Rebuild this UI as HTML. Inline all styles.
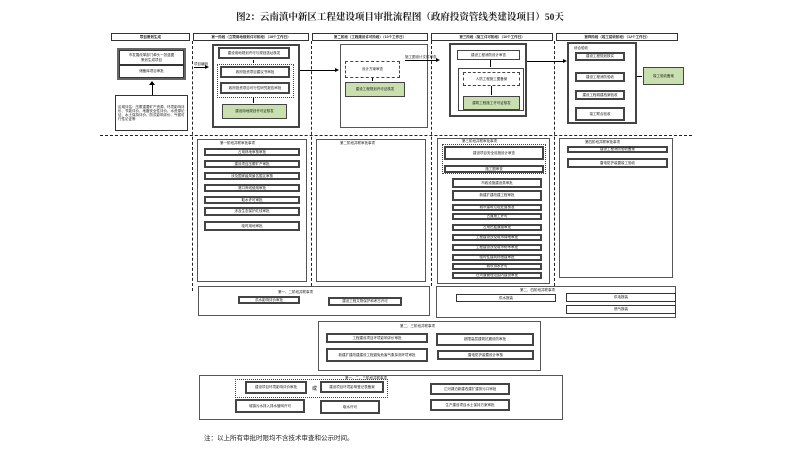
<!DOCTYPE html>
<html><head><meta charset="utf-8"><style>
body{margin:0;width:800px;height:450px;background:#fff;position:relative;overflow:hidden;font-family:"Liberation Sans","Noto Sans CJK SC",sans-serif;color:#222}
.a{position:absolute;box-sizing:border-box}
.b{border:1px solid #333;background:#fff;font-size:3.5px;display:flex;align-items:center;justify-content:center;text-align:center;line-height:1.2}
.t{border:2px solid #444}
.g{background:#c9dfb0;border:1.5px solid #444}
.d{border:1px dashed #444}
.dv{border-left:1.5px dashed #222;width:0}
.dh{border-top:1.5px dashed #222;height:0}
.h{border:1px solid #333;font-size:3.5px;font-weight:bold;display:flex;align-items:center;justify-content:center;background:#fff}
.p{font-size:3.5px}
</style></head><body>
<div class="a" style="left:0;top:9px;width:800px;text-align:center;font-size:9.5px;font-weight:bold;font-family:'Liberation Serif','Noto Serif CJK SC',serif">图2：云南滇中新区工程建设项目审批流程图（政府投资管线类建设项目）50天</div>

<div class="a h" style="left:111px;top:33px;width:79px;height:8px">项目策划生成</div>
<div class="a h" style="left:193px;top:33px;width:116px;height:8px">第一阶段（立项用地规划许可阶段）（18个工作日）</div>
<div class="a h" style="left:312px;top:33px;width:116px;height:8px">第二阶段（工程建设许可阶段）（10个工作日）</div>
<div class="a h" style="left:431px;top:33px;width:122px;height:8px">第三阶段（施工许可阶段）（10个工作日）</div>
<div class="a h" style="left:556px;top:33px;width:122px;height:8px">第四阶段（竣工验收阶段）（12个工作日）</div>

<div class="a dv" style="left:192px;top:41px;height:250px"></div>
<div class="a dv" style="left:311px;top:41px;height:245px"></div>
<div class="a dv" style="left:431px;top:41px;height:245px"></div>
<div class="a dv" style="left:554px;top:41px;height:245px"></div>
<div class="a dh" style="left:100px;top:135px;width:592px"></div>

<!-- col0 -->
<div class="a" style="left:117px;top:48px;width:69px;height:32px;border:2px solid #666"></div>
<div class="a b" style="left:119px;top:50px;width:65px;height:15px">市发展改革部门牵头一张蓝图<br>策划生成项目</div>
<div class="a b" style="left:119px;top:65px;width:65px;height:13px">储备库项目审批</div>
<div class="a" style="left:152px;top:84px;width:1px;height:11px;background:#000"></div>
<div class="a" style="left:149px;top:81px;border:3px solid transparent;border-bottom:4px solid #000;border-top:0"></div>
<div class="a b" style="left:115px;top:95px;width:73px;height:36px;justify-content:flex-start;text-align:left;padding:2px">区域评估：压覆重要矿产资源、环境影响评价、节能评价、地震安全性评价、水资源论证、水土保持评价、防洪影响评价、气候可行性论证等</div>

<!-- col1 -->
<div class="a p" style="left:194px;top:62px">项目编码</div>
<div class="a" style="left:194px;top:67px;width:12px;height:1px;background:#000"></div>
<div class="a" style="left:205px;top:65px;border:2.5px solid transparent;border-left:4px solid #000;border-right:0"></div>
<div class="a t" style="left:212px;top:44px;width:88px;height:84px"></div>
<div class="a b t" style="left:218px;top:47px;width:72px;height:12px">建设用地规划许可与规划选址核发</div>
<div class="a" style="left:253px;top:60px;width:1px;height:3px;background:#000"></div>
<div class="a d" style="left:217px;top:64px;width:77px;height:34px;border-style:dotted;border-width:1.5px"></div>
<div class="a b t" style="left:220px;top:66px;width:70px;height:12px">政府投资项目建议书审批</div>
<div class="a b t" style="left:220px;top:82px;width:70px;height:12px">政府投资项目可行性研究报告审批</div>
<div class="a" style="left:253px;top:98px;width:1px;height:5px;background:#000"></div>
<div class="a b g" style="left:222px;top:104px;width:65px;height:15px">建设用地规划许可证核发</div>
<div class="a" style="left:300px;top:70px;width:36px;height:1px;background:#000"></div>
<div class="a" style="left:335px;top:68px;border:2.5px solid transparent;border-left:4px solid #000;border-right:0"></div>

<!-- col2 -->
<div class="a" style="left:340px;top:44px;width:88px;height:84px;border:1px solid #555"></div>
<div class="a b d" style="left:345px;top:61px;width:55px;height:17px">设计方案审查</div>
<div class="a" style="left:372px;top:78px;width:1px;height:3px;background:#000"></div>
<div class="a b g" style="left:345px;top:82px;width:60px;height:15px">建设工程规划许可证核发</div>
<div class="a p" style="left:405px;top:55px">施工图设计文件审查</div>
<div class="a" style="left:405px;top:60px;width:32px;height:1px;background:#000"></div>
<div class="a" style="left:436px;top:58px;border:2.5px solid transparent;border-left:4px solid #000;border-right:0"></div>

<!-- col3 -->
<div class="a t" style="left:449px;top:43px;width:78px;height:74px"></div>
<div class="a b" style="left:457px;top:50px;width:63px;height:10px;border:1.5px solid #444">建设工程消防设计审查</div>
<div class="a" style="left:490px;top:60px;width:1px;height:7px;background:#000"></div>
<div class="a" style="left:458px;top:68px;width:66px;height:43px;border:1.5px solid #444"></div>
<div class="a b d" style="left:463px;top:72px;width:57px;height:14px">人防工程施工图备案</div>
<div class="a" style="left:491px;top:86px;width:1px;height:9px;background:#000"></div>
<div class="a b g" style="left:463px;top:96px;width:57px;height:14px">建筑工程施工许可证核发</div>
<div class="a" style="left:527px;top:61px;width:37px;height:1px;background:#000"></div>
<div class="a" style="left:563px;top:59px;border:2.5px solid transparent;border-left:4px solid #000;border-right:0"></div>

<!-- col4 -->
<div class="a t" style="left:567px;top:42px;width:70px;height:82px"></div>
<div class="a p" style="left:574px;top:46px">综合验收</div>
<div class="a b t" style="left:575px;top:52px;width:50px;height:9px">建设工程规划核实</div>
<div class="a b t" style="left:575px;top:72px;width:50px;height:10px">建设工程消防验收</div>
<div class="a b t" style="left:575px;top:90px;width:50px;height:10px">建设工程城建档案验收</div>
<div class="a b t" style="left:575px;top:107px;width:50px;height:14px">竣工联合验收</div>
<div class="a" style="left:637px;top:76px;width:5px;height:1px;background:#000"></div>
<div class="a b g" style="left:643px;top:67px;width:41px;height:18px">竣工验收备案</div>

<!-- lower columns -->
<div class="a" style="left:197px;top:139px;width:110px;height:143px;border:1.5px solid #555"></div>
<div class="a p" style="left:220px;top:141px">第一阶段并联审批事项</div>
<div class="a b t" style="left:204px;top:148px;width:96px;height:8px">占用林地审核审批</div>
<div class="a b t" style="left:204px;top:160px;width:96px;height:8px">建设项目压覆矿产审批</div>
<div class="a b t" style="left:204px;top:172px;width:96px;height:8px">涉及国家级风景名胜区审核</div>
<div class="a b t" style="left:204px;top:184px;width:96px;height:8px">港口岸线使用审批</div>
<div class="a b t" style="left:204px;top:196px;width:96px;height:8px">取水许可审批</div>
<div class="a b t" style="left:204px;top:207px;width:96px;height:9px">涉及生态保护红线审批</div>
<div class="a b t" style="left:204px;top:221px;width:96px;height:10px">临时用地审批</div>

<div class="a" style="left:316px;top:139px;width:110px;height:143px;border:1.5px solid #555"></div>
<div class="a p" style="left:340px;top:141px">第二阶段并联审批事项</div>

<div class="a" style="left:437px;top:138px;width:113px;height:146px;border:1.5px solid #555"></div>
<div class="a p" style="left:462px;top:139px">第三阶段并联审批事项</div>
<div class="a" style="left:442px;top:144px;width:104px;height:30px;border:1.5px dotted #444"></div>
<div class="a b t" style="left:444px;top:146px;width:100px;height:14px">建设项目安全设施设计审查</div>
<div class="a b t" style="left:444px;top:165px;width:100px;height:8px">施工图审查</div>
<div class="a b t" style="left:452px;top:178px;width:90px;height:10px">市政设施建设类审批</div>
<div class="a b t" style="left:452px;top:190px;width:90px;height:11px">新建扩建改建工程审批</div>
<div class="a b t" style="left:452px;top:204px;width:90px;height:7px">城市建筑垃圾处置核准</div>
<div class="a b t" style="left:452px;top:213px;width:90px;height:7px">占道施工许可</div>
<div class="a b t" style="left:452px;top:224px;width:90px;height:7px">占用挖掘道路审批</div>
<div class="a b t" style="left:452px;top:234px;width:90px;height:7px">工程建设涉及城市绿地审批</div>
<div class="a b t" style="left:452px;top:244px;width:90px;height:7px">工程建设涉及城市树木审批</div>
<div class="a b t" style="left:452px;top:254px;width:90px;height:7px">临时性建筑物搭建审批</div>
<div class="a b t" style="left:452px;top:263px;width:90px;height:7px">城市排水许可</div>
<div class="a b t" style="left:452px;top:272px;width:90px;height:7px">在河道管理范围内建设审批</div>

<div class="a" style="left:559px;top:138px;width:114px;height:140px;border:1.5px solid #555"></div>
<div class="a p" style="left:585px;top:140px">第四阶段并联审批事项</div>
<div class="a b t" style="left:567px;top:146px;width:101px;height:7px">建设工程消防验收备案</div>
<div class="a b t" style="left:567px;top:158px;width:101px;height:10px">雷电防护装置竣工验收</div>

<!-- bottom -->
<div class="a" style="left:198px;top:286px;width:232px;height:30px;border:1.5px solid #555"></div>
<div class="a p" style="left:278px;top:290px">第一、二阶段并联事项</div>
<div class="a b t" style="left:238px;top:296px;width:62px;height:8px">洪水影响评价审批</div>
<div class="a b t" style="left:328px;top:297px;width:74px;height:9px">建设工程文物保护和考古许可</div>

<div class="a" style="left:436px;top:286px;width:240px;height:32px;border:1.5px solid #555"></div>
<div class="a p" style="left:520px;top:288px">第二、四阶段并联事项</div>
<div class="a b" style="left:456px;top:294px;width:100px;height:8px;border-width:1.5px">供水报装</div>
<div class="a b" style="left:566px;top:293px;width:110px;height:9px">供电报装</div>
<div class="a b" style="left:566px;top:305px;width:110px;height:9px">燃气报装</div>

<div class="a" style="left:318px;top:321px;width:223px;height:50px;border:1.5px solid #555"></div>
<div class="a p" style="left:400px;top:324px">第二、三阶段并联事项</div>
<div class="a b t" style="left:326px;top:333px;width:102px;height:10px">工程建设项目环境影响评价审批</div>
<div class="a b t" style="left:436px;top:333px;width:98px;height:13px">超限高层建筑抗震设防审批</div>
<div class="a b t" style="left:326px;top:348px;width:102px;height:14px">新建扩建改建建设工程避免危害气象探测环境审批</div>
<div class="a b t" style="left:437px;top:350px;width:97px;height:10px">雷电防护装置设计审核</div>

<div class="a" style="left:199px;top:375px;width:364px;height:45px;border:1.5px solid #555"></div>
<div class="a p" style="left:345px;top:376px">第一、二、三阶段并联事项</div>
<div class="a" style="left:235px;top:379px;width:153px;height:19px;border:1.5px dotted #444"></div>
<div class="a b t" style="left:245px;top:381px;width:62px;height:13px">建设项目环境影响评价审批</div>
<div class="a p" style="left:312px;top:385px;font-size:5px">或</div>
<div class="a b t" style="left:320px;top:381px;width:64px;height:12px">建设项目环境影响登记表备案</div>
<div class="a b t" style="left:235px;top:399px;width:70px;height:14px">城镇污水排入排水管网许可</div>
<div class="a b t" style="left:320px;top:400px;width:60px;height:14px">取水许可</div>
<div class="a b t" style="left:430px;top:383px;width:80px;height:12px">江河湖泊新建改建扩建排污口审批</div>
<div class="a b t" style="left:430px;top:399px;width:80px;height:12px">生产建设项目水土保持方案审批</div>

<div class="a" style="left:204px;top:432px;font-size:6.5px">注：以上所有审批时限均不含技术审查和公示时间。</div>
</body></html>
